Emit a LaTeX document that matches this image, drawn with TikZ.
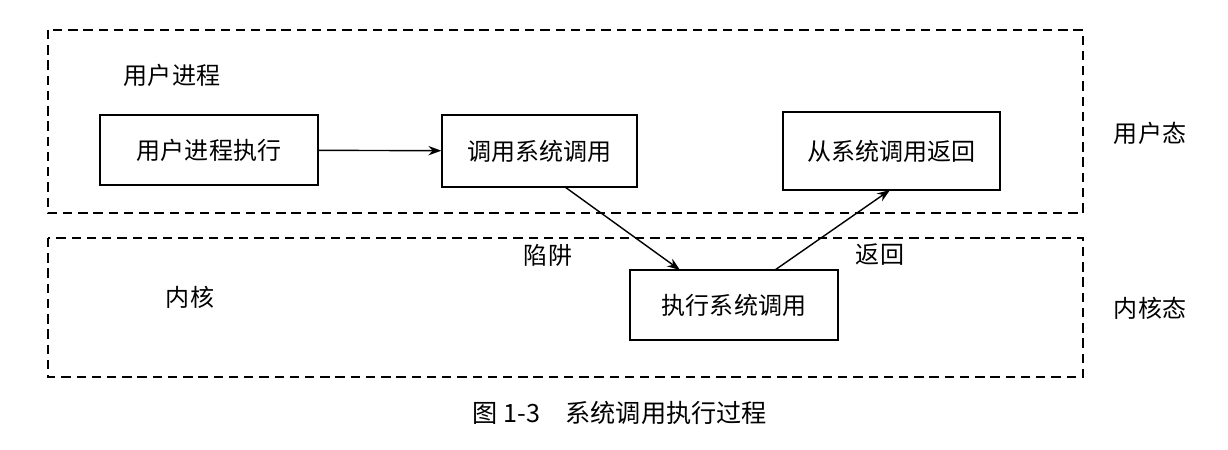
\documentclass[tikz,border=0pt]{standalone}
\usepackage{fontspec}
\newfontfamily\cjk{Noto Sans CJK SC}
\usetikzlibrary{arrows.meta}
\begin{document}
\begin{tikzpicture}[x=0.03cm,y=-0.03cm,
  every node/.style={font=\cjk\fontsize{20.5}{22}\selectfont},
  boxn/.style={draw,line width=1.2pt,inner sep=0pt},
  zone/.style={draw,dashed,line width=0.9pt,dash pattern=on 8pt off 5pt},
  arr/.style={-{Stealth[length=11pt,width=8pt]},line width=1.2pt}]
\useasboundingbox (0,0) rectangle (1228,450);
\draw[zone] (48,30) rectangle (1083,213);
\draw[zone] (48,238) rectangle (1083,377);
\node (lu) at (172,75) {用户进程};
\node (lk) at (190,297) {内核};
\node (su) at (1150,133) {用户态};
\node (sk) at (1150,308) {内核态};
\node[boxn,minimum width=218*0.03cm,minimum height=70*0.03cm] (b1) at (209,150) {用户进程执行};
\node[boxn,minimum width=195*0.03cm,minimum height=72*0.03cm] (b2) at (539.5,151) {调用系统调用};
\node[boxn,minimum width=217*0.03cm,minimum height=78*0.03cm] (b3) at (891.5,151) {从系统调用返回};
\node[boxn,minimum width=208*0.03cm,minimum height=70*0.03cm] (b4) at (734,305) {执行系统调用};
\coordinate (p1) at (565,187);
\coordinate (p2) at (680,270);
\coordinate (p3) at (775,270);
\coordinate (p4) at (890,190);
\draw[arr] (b1) -- (b2);
\draw[arr] (p1) -- (p2);
\draw[arr] (p3) -- (p4);
\node (t1) at (548,255) {陷阱};
\node (t2) at (880,255) {返回};
\node[font=\cjk\fontsize{21.5}{23}\selectfont] (cap) at (620,413) {图 1-3\quad 系统调用执行过程};
\end{tikzpicture}
\end{document}
